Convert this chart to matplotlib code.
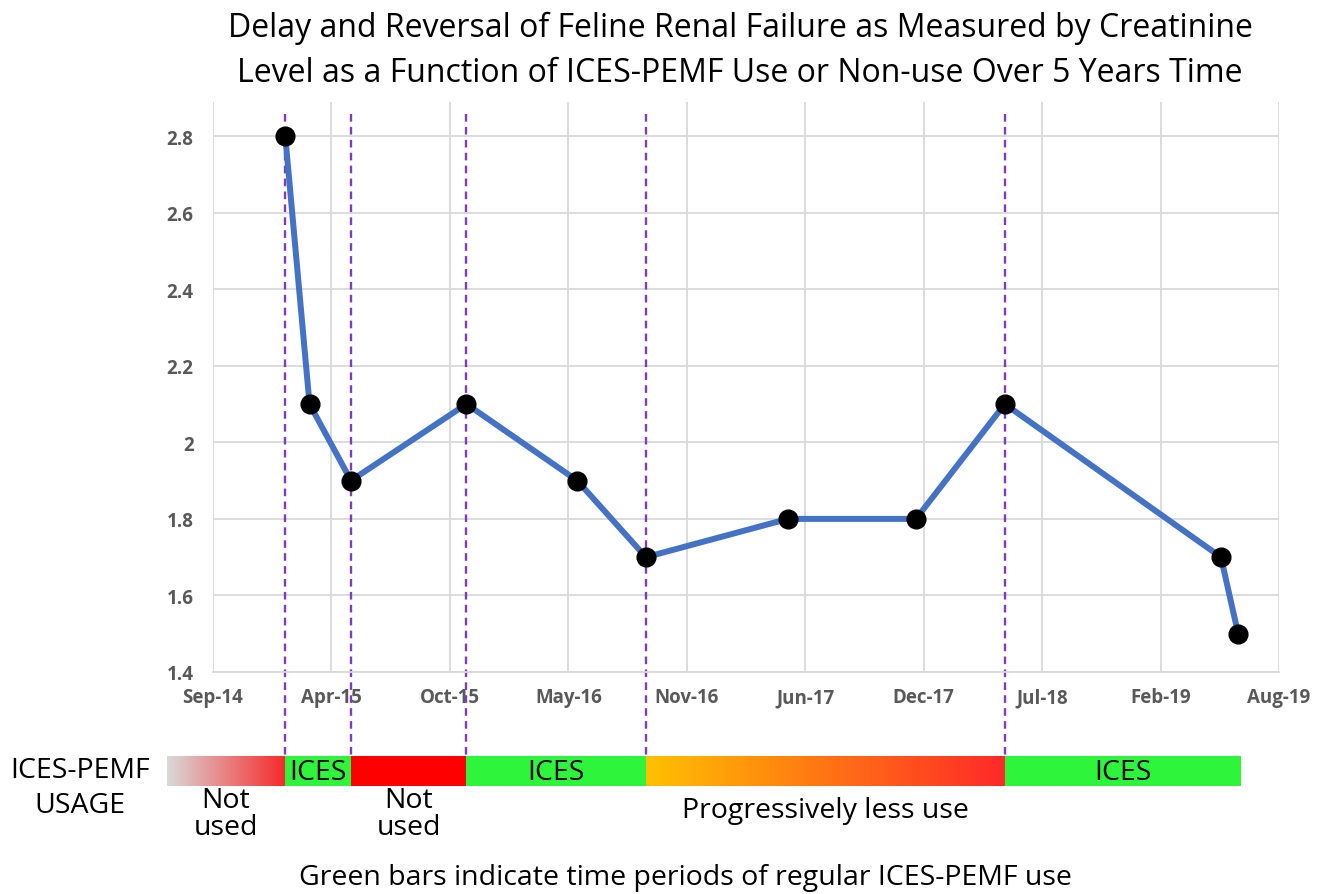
import matplotlib
matplotlib.use("Agg")
import matplotlib.pyplot as plt
import matplotlib.dates as mdates
import matplotlib.transforms as mtransforms
from matplotlib.patches import Rectangle
from matplotlib.colors import to_rgb
import numpy as np
import datetime as dt

plt.rcParams['lines.scale_dashes'] = False

# ---------------- data ----------------
dates = ['2015-01-15', '2015-02-25', '2015-05-06', '2015-11-17', '2016-05-22',
         '2016-09-15', '2017-05-13', '2017-12-15', '2018-05-14', '2019-05-14',
         '2019-06-12']
creatinine = [2.8, 2.1, 1.9, 2.1, 1.9, 1.7, 1.8, 1.8, 2.1, 1.7, 1.5]

event_dates = ['2015-01-15', '2015-05-06', '2015-11-17', '2016-09-15', '2018-05-14']

tick_start = '2014-09-15'
tick_step_days = 200
tick_labels = ['Sep-14', 'Apr-15', 'Oct-15', 'May-16', 'Nov-16', 'Jun-17',
               'Dec-17', 'Jul-18', 'Feb-19', 'Aug-19']
y_ticks = [1.4, 1.6, 1.8, 2.0, 2.2, 2.4, 2.6, 2.8]
y_tick_labels = ['1.4', '1.6', '1.8', '2', '2.2', '2.4', '2.6', '2.8']

seg_start = ['2014-06-29', '2015-01-15', '2015-05-06', '2015-11-17', '2016-09-15', '2018-05-14']
seg_end = ['2015-01-15', '2015-05-06', '2015-11-17', '2016-09-15', '2018-05-14', '2019-06-17']
seg_color_from = ['#D9D9D9', '#2EF53C', '#FF0000', '#2EF53C', '#FFC000', '#2EF53C']
seg_color_to = ['#F52A2A', '#2EF53C', '#FF0000', '#2EF53C', '#FF2828', '#2EF53C']
seg_label = ['', 'ICES', '', 'ICES', '', 'ICES']

under_labels = ['Not\nused', 'Not\nused', 'Progressively less use']
under_seg_index = [0, 2, 4]
under_label_top_px = [787, 787, 797]

title = ('Delay and Reversal of Feline Renal Failure as Measured by Creatinine\n'
         'Level as a Function of ICES-PEMF Use or Non-use Over 5 Years Time')
footnote = 'Green bars indicate time periods of regular ICES-PEMF use'


def d2n(s):
    return mdates.date2num(dt.datetime.strptime(s, '%Y-%m-%d'))


x = [d2n(s) for s in dates]
t0 = d2n(tick_start)
tick_pos = [t0 + i * tick_step_days for i in range(len(tick_labels))]

W, H = 1323, 895
fig = plt.figure(figsize=(W / 100, H / 100), dpi=100)
fig.patch.set_facecolor('white')

ax = fig.add_axes([213 / W, 1 - 673 / H, (1279 - 213) / W, (673 - 103) / H])
ax.set_xlim(tick_pos[0], tick_pos[-1])
ax.set_ylim(1.4, 2.889)

grid_c = '#D9D9D9'
for s in ax.spines.values():
    s.set_visible(False)
ax.spines['bottom'].set_visible(True)
ax.spines['bottom'].set_color(grid_c)
ax.spines['bottom'].set_linewidth(1.3)
ax.set_xticks(tick_pos)
ax.set_xticklabels(tick_labels)
ax.set_yticks(y_ticks)
ax.set_yticklabels(y_tick_labels)
ax.grid(True, color=grid_c, linewidth=1.3)
ax.set_axisbelow(True)
ax.tick_params(length=0, colors='#595959', labelsize=13.5, pad=11)
ax.tick_params(axis='y', pad=14)
for lab in ax.get_xticklabels() + ax.get_yticklabels():
    lab.set_fontweight('bold')
    lab.set_fontfamily('Open Sans')

ax.plot(x, creatinine, color='#4472C4', linewidth=4.3, zorder=3,
        solid_capstyle='round', solid_joinstyle='round')
ax.plot(x, creatinine, linestyle='none', marker='o', markersize=13.5,
        color='black', zorder=4)

# dashed event lines extending below the axes to the usage bar
blend = mtransforms.blended_transform_factory(ax.transData, fig.transFigure)
for e in event_dates:
    ex = d2n(e)
    ax.plot([ex, ex], [1 - 115 / H, 1 - 757 / H], transform=blend,
            color='#7E3DBE', linewidth=1.7, dashes=(5.5, 3.8), clip_on=False, zorder=2)

# usage bar
bar_y0 = 1 - 787 / H
bar_h = 30 / H
fs = 20.5
for s0, s1, c0, c1, lab in zip(seg_start, seg_end, seg_color_from, seg_color_to, seg_label):
    a, b = d2n(s0), d2n(s1)
    ca, cb = np.array(to_rgb(c0)), np.array(to_rgb(c1))
    if c0 == c1:
        ax.add_patch(Rectangle((a, bar_y0), b - a, bar_h, transform=blend,
                               facecolor=c0, edgecolor='none', clip_on=False))
    else:
        n = 120
        edges = np.linspace(a, b, n + 1)
        for k in range(n):
            f = (k + 0.5) / n
            col = ca * (1 - f) + cb * f
            ax.add_patch(Rectangle((edges[k], bar_y0), edges[k + 1] - edges[k] + 0.3, bar_h,
                                   transform=blend, facecolor=col, edgecolor='none',
                                   clip_on=False))
    if lab:
        ax.text((a + b) / 2, bar_y0 + bar_h / 2 - 1 / H, lab, transform=blend,
                ha='center', va='center', fontsize=fs, family='Open Sans', clip_on=False)

for lab, idx, ypx in zip(under_labels, under_seg_index, under_label_top_px):
    cx = (d2n(seg_start[idx]) + d2n(seg_end[idx])) / 2
    ax.text(cx, 1 - ypx / H, lab, transform=blend, ha='center', va='top',
            fontsize=fs, family='Open Sans', linespacing=0.95, clip_on=False)

fig.text(80 / W, 1 - 771 / H, 'ICES-PEMF', ha='center', va='center',
         fontsize=fs, family='Open Sans')
fig.text(80 / W, 1 - 806 / H, 'USAGE', ha='center', va='center',
         fontsize=fs, family='Open Sans')
fig.text(685 / W, 1 - 878 / H, footnote, ha='center', va='center',
         fontsize=fs, family='Open Sans')

fig.text(740 / W, 1 - 51 / H, title, ha='center', va='center', fontsize=23,
         family=['Open Sans', 'DejaVu Sans'], linespacing=1.45)

fig.savefig('out.png', dpi=100, facecolor='white')
